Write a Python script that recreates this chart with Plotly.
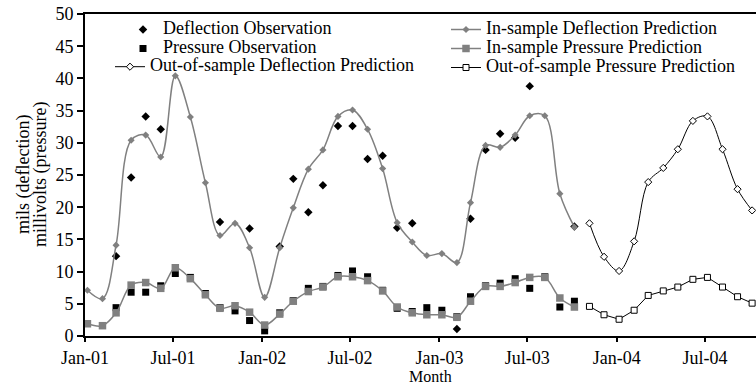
import pandas as pd
import plotly.graph_objects as go

# ---- data ----
in_months = pd.date_range("2001-01-01", periods=34, freq="MS") + pd.Timedelta(days=5)
out_months = pd.date_range("2003-11-01", periods=12, freq="MS") + pd.Timedelta(days=5)

deflection_obs = [None, None, 12.4, 24.6, 34.1, 32.1, None, None, None, 17.7, None, 16.7,
                  None, 13.9, 24.4, 19.2, 23.4, 32.6, 32.6, 27.5, 28.0, 16.8, 17.5, None,
                  None, 1.1, 18.2, 28.9, 31.4, 30.8, 38.8, None, None, 17.0]
pressure_obs = [None, None, 4.4, 6.8, 6.8, 7.8, 9.7, 9.1, 6.6, 4.4, 3.9, 2.4,
                0.8, 3.6, 5.5, 7.4, 7.7, 9.4, 10.1, 9.2, 7.1, 4.3, 3.8, 4.4,
                4.0, 3.0, 6.1, 7.8, 8.2, 8.9, 7.4, 9.2, 4.5, 5.4]
in_deflection = [7.1, 5.8, 14.1, 30.4, 31.2, 27.8, 40.4, 34.0, 23.8, 15.6, 17.5, 13.7,
                 6.0, 13.7, 19.9, 25.9, 28.9, 34.1, 35.1, 32.1, 26.0, 17.6, 14.6, 12.5,
                 12.8, 11.4, 20.7, 29.6, 29.3, 31.2, 34.2, 34.2, 22.1, 16.9]
in_pressure = [1.9, 1.6, 3.6, 7.9, 8.3, 7.4, 10.6, 8.9, 6.4, 4.3, 4.7, 3.7,
               1.7, 3.4, 5.4, 6.9, 7.6, 9.2, 9.2, 8.6, 7.0, 4.5, 3.6, 3.3,
               3.3, 2.9, 5.4, 7.7, 7.7, 8.3, 9.1, 9.1, 5.9, 4.5]
out_deflection = [17.5, 12.3, 10.1, 14.7, 23.9, 26.1, 29.0, 33.4, 34.1, 29.0, 22.8, 19.5]
out_pressure = [4.6, 3.3, 2.6, 4.0, 6.3, 7.0, 7.6, 8.8, 9.1, 7.6, 6.1, 5.1]

tick_dates = pd.date_range("2001-01-01", "2004-07-01", freq="6MS")

GRAY = "#808080"
FONT = "Liberation Serif, Times New Roman, DejaVu Serif, serif"


def lbl(s):
    return f"<span style='font-size:18px'>{s}</span>"


fig = go.Figure()
fig.add_trace(go.Scatter(x=in_months, y=deflection_obs, mode="markers", name=lbl("Deflection Observation"),
                         marker=dict(symbol="diamond", size=6.5, color="black"),
                         legend="legend", legendrank=1))
fig.add_trace(go.Scatter(x=in_months, y=pressure_obs, mode="markers", name=lbl("Pressure Observation"),
                         marker=dict(symbol="square", size=7, color="black"),
                         legend="legend", legendrank=2))
fig.add_trace(go.Scatter(x=in_months, y=in_deflection, mode="lines+markers", name=lbl("In-sample Deflection Prediction"),
                         line=dict(color=GRAY, width=1.5, shape="spline", smoothing=1),
                         marker=dict(symbol="diamond", size=5.5, color=GRAY),
                         legend="legend3", legendrank=1))
fig.add_trace(go.Scatter(x=in_months, y=in_pressure, mode="lines+markers", name=lbl("In-sample Pressure Prediction"),
                         line=dict(color=GRAY, width=1.5, shape="spline", smoothing=1),
                         marker=dict(symbol="square", size=7.5, color=GRAY),
                         legend="legend3", legendrank=2))
fig.add_trace(go.Scatter(x=out_months, y=out_deflection, mode="lines+markers", name=lbl("Out-of-sample Deflection Prediction"),
                         line=dict(color="black", width=1, shape="spline", smoothing=1),
                         marker=dict(symbol="diamond", size=5.5, color="white", line=dict(color="black", width=1)),
                         legend="legend2"))
fig.add_trace(go.Scatter(x=out_months, y=out_pressure, mode="lines+markers", name=lbl("Out-of-sample Pressure Prediction"),
                         line=dict(color="black", width=1),
                         marker=dict(symbol="square", size=6, color="white", line=dict(color="black", width=1)),
                         legend="legend3", legendrank=3))

legend_common = dict(orientation="v", xanchor="left", yanchor="top",
                     font=dict(family=FONT, size=12, color="black"),
                     bgcolor="rgba(0,0,0,0)", borderwidth=0, traceorder="normal")

PW, PH = 671, 322  # plot area size in px (page coordinates: x 85..756, y 14..336)


def lx(px):
    return (px - 85) / PW


def ly(px):
    return 1 - (px - 14) / PH


tick_style = dict(ticks="outside", tickwidth=1.5, tickcolor="black",
                  showline=True, linewidth=2, linecolor="black",
                  showgrid=False, zeroline=False, automargin=False,
                  ticklabeloverflow="allow",
                  tickfont=dict(family=FONT, size=18, color="black"))

fig.update_layout(
    width=756, height=388,
    margin=dict(l=85, r=0, t=14, b=52, autoexpand=False),
    plot_bgcolor="white", paper_bgcolor="white",
    font=dict(family=FONT, size=18, color="black"),
    showlegend=True,
    legend=dict(x=lx(123), y=ly(15), **legend_common),
    legend2=dict(x=lx(110), y=ly(15 + 2 * 18.6), **legend_common),
    legend3=dict(x=lx(446), y=ly(15), **legend_common),
    xaxis=dict(type="date", range=["2001-01-01", "2004-10-14"],
               tickvals=list(tick_dates), tickformat="%b-%y", ticklen=4,
               mirror=True, **tick_style),
    yaxis=dict(range=[0, 50], dtick=5, tick0=0, ticklen=6, **tick_style),
    annotations=[
        dict(text="Month", xref="paper", yref="paper", x=lx(430), y=ly(376),
             xanchor="center", yanchor="middle", showarrow=False,
             font=dict(family=FONT, size=16, color="black")),
        dict(text=lbl("mils (deflection)") + "<br>" + lbl("millivolts (pressure)"),
             xref="paper", yref="paper", x=lx(32), y=0.5, textangle=-90,
             xanchor="center", yanchor="middle", showarrow=False,
             font=dict(family=FONT, size=13, color="black")),
    ],
)

fig.write_html("out.html",
               config={"displayModeBar": False},
               post_script="document.body.style.margin='0px';document.body.style.overflow='hidden';")
